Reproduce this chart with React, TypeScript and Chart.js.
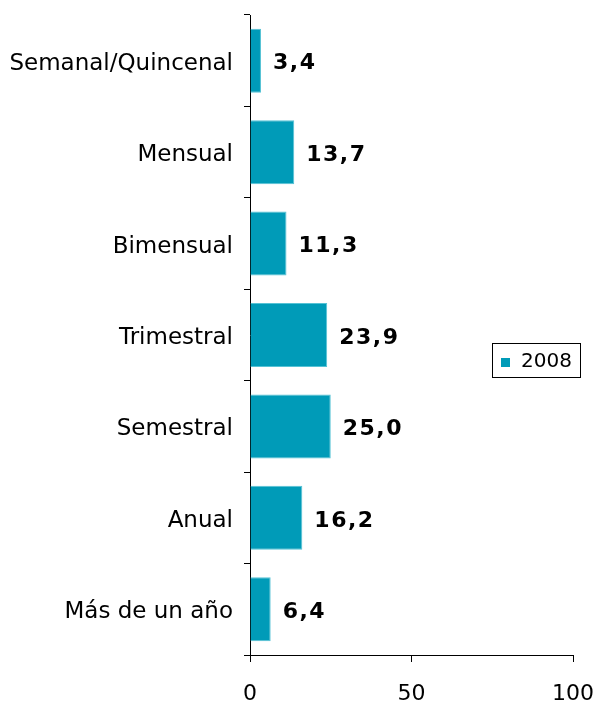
import React, { useEffect, useRef } from "react";
import { Chart, registerables } from "chart.js";

Chart.register(...registerables);

const categories = [
  "Semanal/Quincenal",
  "Mensual",
  "Bimensual",
  "Trimestral",
  "Semestral",
  "Anual",
  "Más de un año",
];
const values2008 = [3.4, 13.7, 11.3, 23.9, 25.0, 16.2, 6.4];
const seriesName = "2008";
const xTicks = [0, 50, 100];

const BAR_COLOR = "#009bb8";
const FONT = "'DejaVu Sans', Verdana, sans-serif";

const valueLabels = {
  id: "valueLabels",
  afterDatasetsDraw(chart: any) {
    const ctx = chart.ctx;
    const meta = chart.getDatasetMeta(0);
    ctx.save();
    ctx.font = `bold 22px ${FONT}`;
    (ctx as any).letterSpacing = "1.5px";
    ctx.fillStyle = "#000";
    ctx.textAlign = "left";
    ctx.textBaseline = "middle";
    meta.data.forEach((bar: any, i: number) => {
      const v = chart.data.datasets[0].data[i] as number;
      ctx.fillText(v.toFixed(1).replace(".", ","), bar.x + 12, bar.y + 3);
    });
    ctx.restore();
  },
};

const categoryLabels = {
  id: "categoryLabels",
  afterDraw(chart: any) {
    const ctx = chart.ctx;
    const scale = chart.scales.y;
    ctx.save();
    ctx.font = `23px ${FONT}`;
    ctx.fillStyle = "#000";
    ctx.textAlign = "right";
    ctx.textBaseline = "middle";
    (chart.data.labels as string[]).forEach((lab, i) => {
      const y = scale.getPixelForValue(i);
      ctx.fillText(lab, chart.chartArea.left - 17, y + 3);
    });
    ctx.restore();
  },
};

const boxLegend = {
  id: "boxLegend",
  afterDraw(chart: any) {
    const ctx = chart.ctx;
    const x = 492;
    const y = 343;
    const w = 88;
    const h = 34;
    ctx.save();
    ctx.fillStyle = "#fff";
    ctx.fillRect(x, y, w, h);
    ctx.strokeStyle = "#000";
    ctx.lineWidth = 1;
    ctx.strokeRect(x + 0.5, y + 0.5, w, h);
    ctx.fillStyle = BAR_COLOR;
    ctx.fillRect(x + 9, y + 15, 9, 9);
    ctx.fillStyle = "#000";
    ctx.font = `20px ${FONT}`;
    ctx.textAlign = "left";
    ctx.textBaseline = "middle";
    ctx.fillText(chart.data.datasets[0].label, x + 29, y + 19);
    ctx.restore();
  },
};

const zeroPad = (scale: any) => {
  scale.paddingTop = 0;
  scale.paddingBottom = 0;
  scale.paddingLeft = 0;
  scale.paddingRight = 0;
};

export default function App() {
  const ref = useRef<HTMLCanvasElement | null>(null);

  useEffect(() => {
    document.body.style.margin = "0";
    const canvas = ref.current;
    if (!canvas) return;
    const chart = new Chart(canvas, {
      type: "bar",
      data: {
        labels: categories,
        datasets: [
          {
            label: seriesName,
            data: values2008,
            backgroundColor: BAR_COLOR,
            borderColor: "#55c2d5",
            borderWidth: 1,
            categoryPercentage: 1,
            barPercentage: 0.7,
          },
        ],
      },
      options: {
        indexAxis: "y",
        responsive: false,
        animation: false,
        layout: { padding: { top: 15, right: 26, left: 0, bottom: 0 } },
        plugins: {
          legend: { display: false },
          tooltip: { enabled: false },
        },
        scales: {
          x: {
            min: xTicks[0],
            max: xTicks[xTicks.length - 1],
            afterBuildTicks: (scale: any) => {
              scale.ticks = xTicks.map((v) => ({ value: v }));
            },
            afterFit: (scale: any) => {
              scale.height = 47;
              zeroPad(scale);
            },
            grid: {
              drawOnChartArea: false,
              drawTicks: true,
              tickLength: 7,
              color: "#000",
            },
            border: { display: true, color: "#000", width: 1 },
            ticks: {
              color: "#000",
              font: { family: FONT, size: 22 },
              padding: 19,
              maxRotation: 0,
            },
          },
          y: {
            afterFit: (scale: any) => {
              scale.width = 250;
              zeroPad(scale);
            },
            grid: {
              offset: true,
              drawOnChartArea: false,
              drawTicks: true,
              tickLength: 6,
              color: "#000",
            },
            border: { display: true, color: "#000", width: 1 },
            ticks: {
              display: false,
            },
          },
        },
      },
      plugins: [valueLabels, categoryLabels, boxLegend],
    });
    return () => chart.destroy();
  }, []);

  return (
    <div style={{ position: "absolute", left: 0, top: 0, width: 599, height: 702, background: "#fff" }}>
      <canvas ref={ref} width={599} height={702} />
    </div>
  );
}
